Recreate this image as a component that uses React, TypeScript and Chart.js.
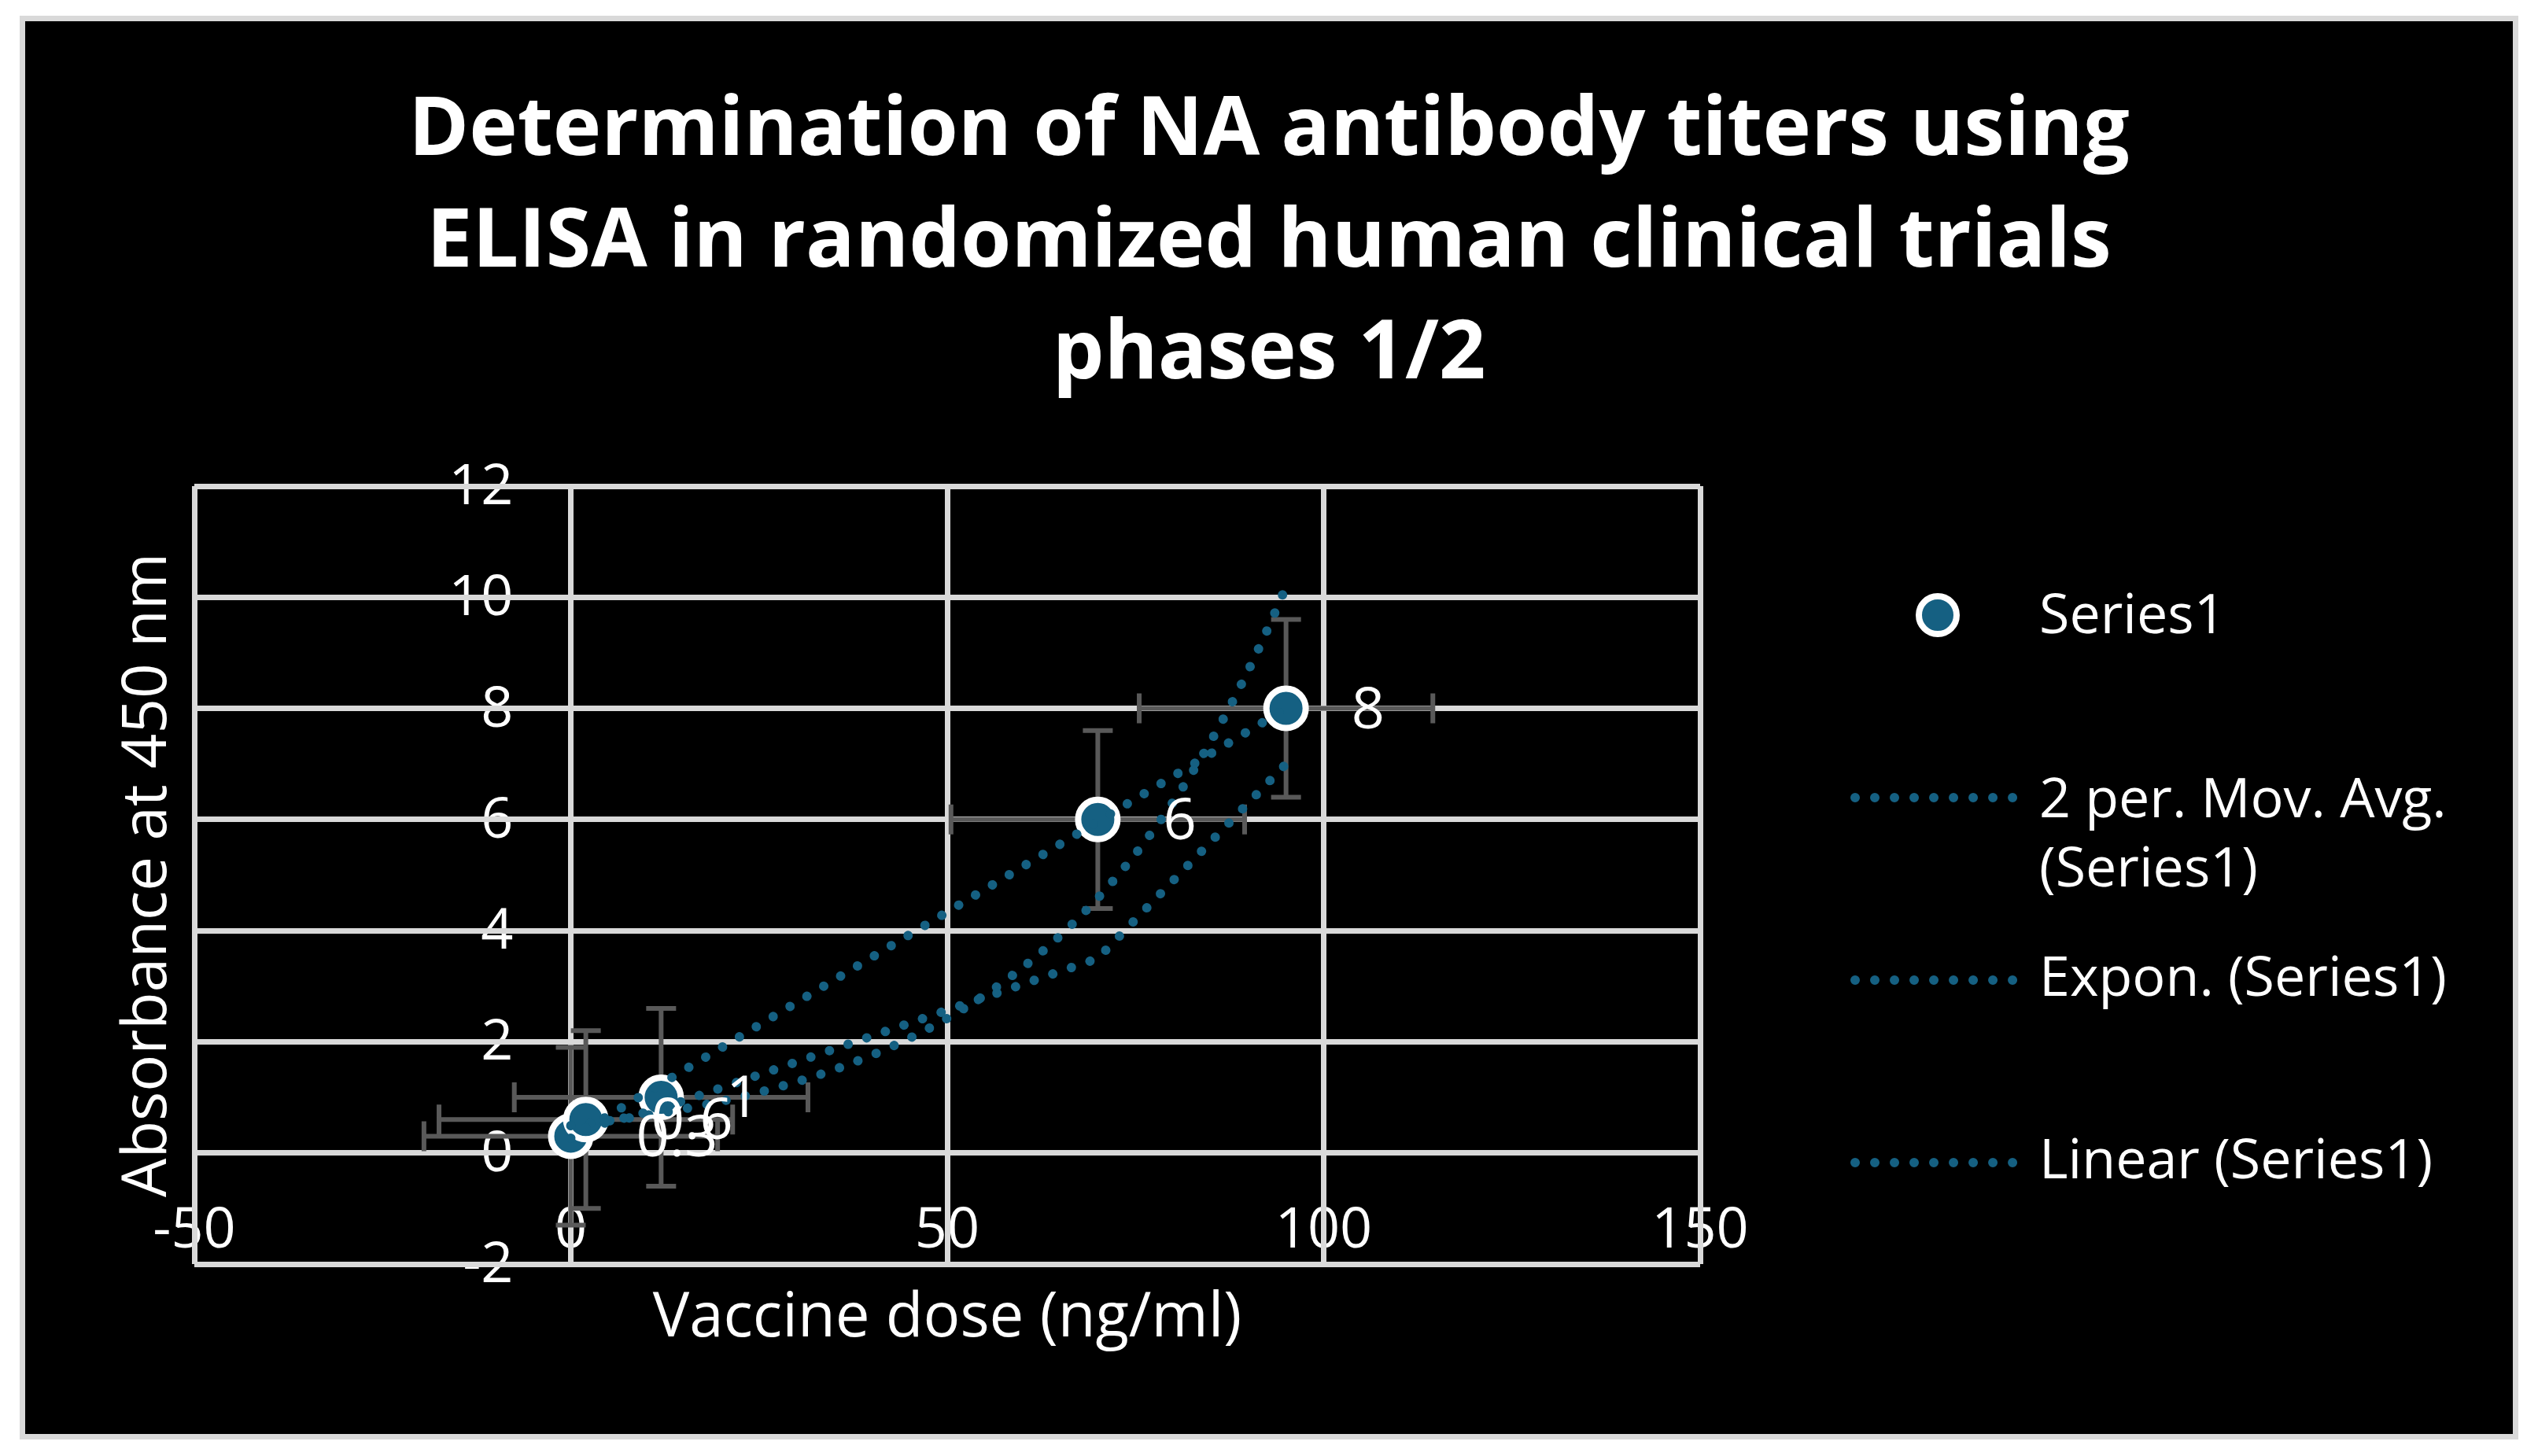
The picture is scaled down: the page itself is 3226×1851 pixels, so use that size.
import React, { useEffect, useRef } from 'react';
import { Chart, registerables } from 'chart.js';

Chart.register(...registerables);

// ---------- data ----------
const TITLE_LINES = [
  'Determination of NA antibody titers using',
  'ELISA in randomized human clinical trials',
  'phases 1/2',
];
const X_TITLE = 'Vaccine dose (ng/ml)';
const Y_TITLE = 'Absorbance at 450 nm';

const doseValues = [0, 2, 12, 70, 95];
const absorbanceValues = [0.3, 0.6, 1, 6, 8];
const pointLabels = ['0.3', '0.6', '1', '6', '8'];
const doseErrors = [19.5, 19.5, 19.5, 19.5, 19.5];
const absorbanceErrors = [1.6, 1.6, 1.6, 1.6, 1.6];

const xTickValues = [-50, 0, 50, 100, 150];
const yTickValues = [-2, 0, 2, 4, 6, 8, 10, 12];

const seriesName = 'Series1';
const legendTexts = [
  ['Series1'],
  ['2 per. Mov. Avg.', '(Series1)'],
  ['Expon. (Series1)'],
  ['Linear (Series1)'],
];

// ---------- styles ----------
const FONT = '"Open Sans", "Liberation Sans", sans-serif';
const BLUE = '#156082';
const GRID = '#d9d9d9';
const ERR = '#595959';

// ---------- trendlines (fitted from the data, as the spreadsheet does) ----------
function linearFit(xs: number[], ys: number[]) {
  const n = xs.length;
  const mx = xs.reduce((a, b) => a + b, 0) / n;
  const my = ys.reduce((a, b) => a + b, 0) / n;
  let sxy = 0, sxx = 0;
  for (let i = 0; i < n; i++) {
    sxy += (xs[i] - mx) * (ys[i] - my);
    sxx += (xs[i] - mx) ** 2;
  }
  const m = sxy / sxx;
  return { m, c: my - m * mx };
}
const lin = linearFit(doseValues, absorbanceValues);
const expo = linearFit(doseValues, absorbanceValues.map((v) => Math.log(v)));
const xMin = Math.min(...doseValues);
const xMax = Math.max(...doseValues);

const linearTrend = [xMin, xMax].map((x) => ({ x, y: lin.m * x + lin.c }));
const expTrend: { x: number; y: number }[] = [];
for (let x = xMin; x <= xMax; x += 0.5) expTrend.push({ x, y: Math.exp(expo.c) * Math.exp(expo.m * x) });
const movAvgTrend = doseValues.slice(1).map((x, i) => ({
  x,
  y: (absorbanceValues[i] + absorbanceValues[i + 1]) / 2,
}));

const dotted = {
  showLine: true,
  pointRadius: 0,
  borderColor: BLUE,
  borderWidth: 12,
  borderDash: [0.01, 25],
  borderCapStyle: 'round' as const,
  borderJoinStyle: 'round' as const,
  tension: 0,
  fill: false,
  order: 0,
};

const decorPlugin = {
  id: 'excelDecor',
  beforeDraw(chart: any) {
    const ctx: CanvasRenderingContext2D = chart.ctx;
    const xs = chart.scales.x;
    const ys = chart.scales.y;
    const area = chart.chartArea;
    ctx.save();
    ctx.fillStyle = '#ffffff';
    ctx.textBaseline = 'alphabetic';

    // title
    ctx.font = `bold 104px ${FONT}`;
    ctx.textAlign = 'center';
    TITLE_LINES.forEach((t, i) => ctx.fillText(t, chart.width / 2, 170 + i * 142));

    // tick labels next to the axes crossing at 0
    ctx.font = `72px ${FONT}`;
    const x0 = xs.getPixelForValue(0);
    const y0 = ys.getPixelForValue(0);
    ctx.textAlign = 'right';
    ys.ticks.forEach((t: any) => ctx.fillText(String(t.value), x0 - 73, ys.getPixelForValue(t.value) + 23));
    ctx.textAlign = 'center';
    xs.ticks.forEach((t: any) => ctx.fillText(String(t.value), xs.getPixelForValue(t.value), y0 + 120));

    // axis titles
    ctx.font = `78px ${FONT}`;
    ctx.textAlign = 'center';
    ctx.fillText(X_TITLE, (area.left + area.right) / 2, area.bottom + 92);
    ctx.save();
    ctx.translate(179, (area.top + area.bottom) / 2);
    ctx.rotate(-Math.PI / 2);
    ctx.fillText(Y_TITLE, 0, 0);
    ctx.restore();

    // legend
    const lx = 2560;
    ctx.font = `70px ${FONT}`;
    ctx.textAlign = 'left';
    const baselines = [[778], [1012], [1239], [1471]];
    baselines[1].push(1100);
    const rowMid = [755, 987, 1219, 1451];
    legendTexts.forEach((lines, i) => {
      lines.forEach((l, j) => ctx.fillText(l, lx, baselines[i][j]));
    });
    // marker symbol
    ctx.beginPath();
    ctx.arc(2431, rowMid[0], 24, 0, Math.PI * 2);
    ctx.fillStyle = BLUE;
    ctx.fill();
    ctx.lineWidth = 8;
    ctx.strokeStyle = '#ffffff';
    ctx.stroke();
    // dotted line symbols
    ctx.strokeStyle = BLUE;
    ctx.lineWidth = 12;
    ctx.lineCap = 'round';
    ctx.setLineDash([0.01, 25]);
    for (let i = 1; i < 4; i++) {
      ctx.beginPath();
      ctx.moveTo(2326, rowMid[i]);
      ctx.lineTo(2530, rowMid[i]);
      ctx.stroke();
    }
    ctx.restore();
  },
  beforeDatasetsDraw(chart: any) {
    const ctx: CanvasRenderingContext2D = chart.ctx;
    const xs = chart.scales.x;
    const ys = chart.scales.y;
    ctx.save();
    ctx.strokeStyle = ERR;
    ctx.lineWidth = 6;
    ctx.lineCap = 'butt';
    const cap = 19;
    doseValues.forEach((xv, i) => {
      const yv = absorbanceValues[i];
      const px = xs.getPixelForValue(xv);
      const py = ys.getPixelForValue(yv);
      const xl = xs.getPixelForValue(xv - doseErrors[i]);
      const xr = xs.getPixelForValue(xv + doseErrors[i]);
      const yt = ys.getPixelForValue(yv + absorbanceErrors[i]);
      const yb = ys.getPixelForValue(yv - absorbanceErrors[i]);
      ctx.beginPath();
      ctx.moveTo(xl, py); ctx.lineTo(xr, py);
      ctx.moveTo(xl, py - cap); ctx.lineTo(xl, py + cap);
      ctx.moveTo(xr, py - cap); ctx.lineTo(xr, py + cap);
      ctx.moveTo(px, yt); ctx.lineTo(px, yb);
      ctx.moveTo(px - cap, yt); ctx.lineTo(px + cap, yt);
      ctx.moveTo(px - cap, yb); ctx.lineTo(px + cap, yb);
      ctx.stroke();
    });
    ctx.restore();
  },
  afterDatasetsDraw(chart: any) {
    const ctx: CanvasRenderingContext2D = chart.ctx;
    const meta = chart.getDatasetMeta(0);
    ctx.save();
    ctx.fillStyle = '#ffffff';
    ctx.font = `74px ${FONT}`;
    ctx.textAlign = 'left';
    ctx.textBaseline = 'alphabetic';
    meta.data.forEach((el: any, i: number) => {
      ctx.fillText(pointLabels[i], el.x + 83, el.y + 25);
    });
    ctx.restore();
  },
};

export default function App() {
  const ref = useRef<HTMLCanvasElement>(null);
  useEffect(() => {
    const canvas = ref.current;
    if (!canvas) return;
    const chart = new Chart(canvas, {
      type: 'scatter',
      data: {
        datasets: [
          {
            label: seriesName,
            data: doseValues.map((x, i) => ({ x, y: absorbanceValues[i] })),
            pointRadius: 25,
            pointHoverRadius: 25,
            pointBackgroundColor: BLUE,
            pointBorderColor: '#ffffff',
            pointBorderWidth: 8,
            showLine: false,
            order: 1,
          } as any,
          { label: '2 per. Mov. Avg. (Series1)', data: movAvgTrend, ...dotted } as any,
          { label: 'Expon. (Series1)', data: expTrend, ...dotted } as any,
          { label: 'Linear (Series1)', data: linearTrend, ...dotted } as any,
        ],
      },
      options: {
        responsive: false,
        animation: false,
        devicePixelRatio: 1,
        layout: { padding: { left: 215, right: 1033, top: 591, bottom: 216 } },
        plugins: {
          legend: { display: false },
          title: { display: false },
          tooltip: { enabled: false },
        },
        scales: {
          x: {
            type: 'linear',
            min: xTickValues[0],
            max: xTickValues[xTickValues.length - 1],
            ticks: { stepSize: xTickValues[1] - xTickValues[0], display: false },
            grid: { color: GRID, lineWidth: 7, drawTicks: false },
            border: { display: false },
          },
          y: {
            type: 'linear',
            min: yTickValues[0],
            max: yTickValues[yTickValues.length - 1],
            ticks: { stepSize: yTickValues[1] - yTickValues[0], display: false },
            grid: { color: GRID, lineWidth: 7, drawTicks: false },
            border: { display: false },
          },
        },
      } as any,
      plugins: [decorPlugin],
    });
    return () => chart.destroy();
  }, []);

  return (
    <div style={{ position: 'absolute', left: 0, top: 0, width: 3226, height: 1851, background: '#ffffff' }}>
      <div
        style={{
          position: 'absolute',
          left: 25,
          top: 20,
          width: 3176,
          height: 1810,
          boxSizing: 'border-box',
          border: '7px solid #d9d9d9',
          background: '#000000',
        }}
      >
        <canvas ref={ref} width={3162} height={1796} style={{ display: 'block', width: 3162, height: 1796 }} />
      </div>
    </div>
  );
}
